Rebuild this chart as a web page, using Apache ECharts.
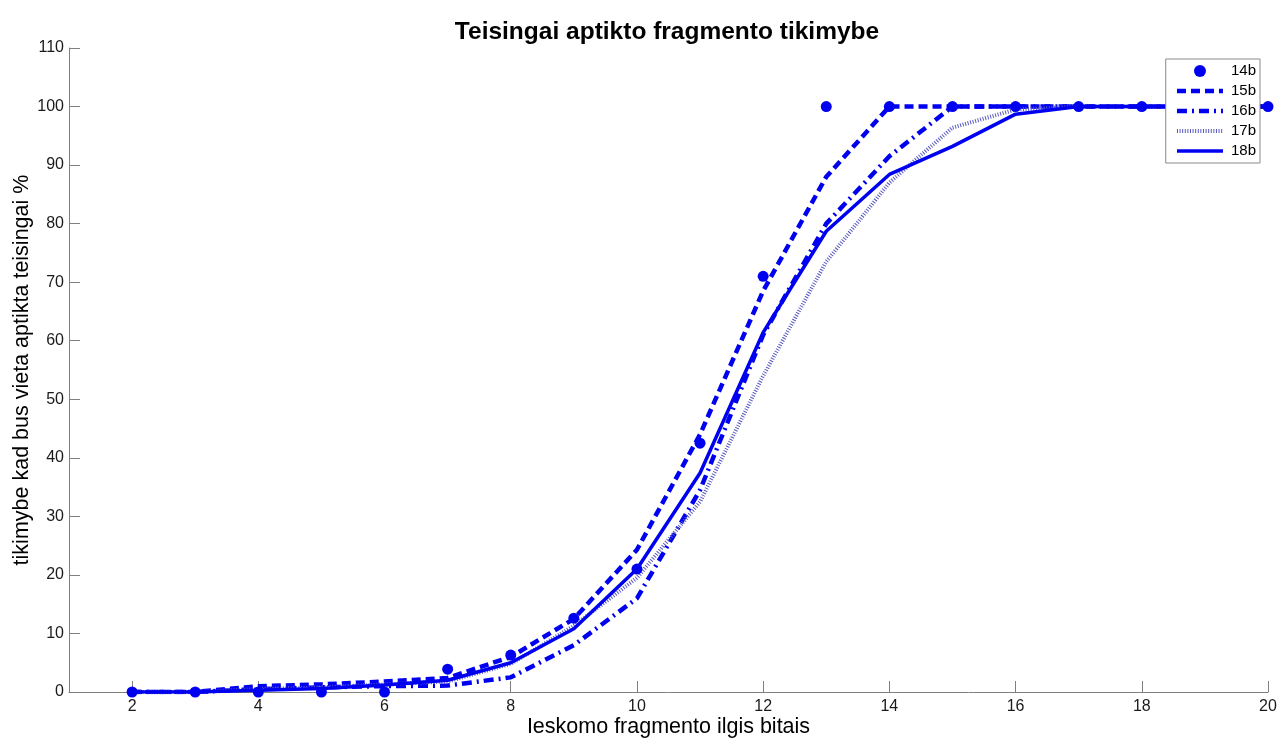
<!DOCTYPE html>
<html>
<head>
<meta charset="utf-8">
<script src="https://cdn.jsdelivr.net/npm/echarts@6/dist/echarts.min.js"></script>
<style>
html,body{margin:0;padding:0;background:#fff;}
#chart{width:1279px;height:738px;}
</style>
</head>
<body>
<div id="chart"></div>
<script>
var xValues = [2,3,4,5,6,7,8,9,10,11,12,13,14,15,16,17,18,19,20];
var s14b = [0,0,0,0,0,3.9,6.3,12.6,21,42.5,71,100,100,100,100,100,100,100,100];
var s15b = [0,0,1,1.3,1.8,2.4,6,12.5,24.3,44,68.5,88,100,100,100,100,100,100,100];
var s16b = [0,0,0.5,0.8,1,1.1,2.5,8,16,34.5,61,80,91.5,100,100,100,100,100,100];
var s17b = [0,0,0.5,0.8,1.3,1.8,4.8,11.3,19.5,32.5,54,73.5,87,96.4,99.5,100,100,100,100];
var s18b = [0,0,0.3,0.6,1.2,2,5,10.8,21,37.4,61.4,78.7,88.4,93.2,98.7,100,100,100,100];
var xTicks = [2,4,6,8,10,12,14,16,18,20];
var seriesNames = ['14b','15b','16b','17b','18b'];
var titleText = 'Teisingai aptikto fragmento tikimybe';
var xName = 'Ieskomo fragmento ilgis bitais';
var yName = 'tikimybe kad bus vieta aptikta teisingai %';

function pairs(arr){ return xValues.map(function(x,i){ return [x, arr[i]]; }); }

var blue = '#0000f0';
var dotted = '#5858c0';
var font = 'Liberation Sans, Arial, sans-serif';
var st15 = {color: blue, width: 4.5, type: [9, 5]};
var st16 = {color: blue, width: 4.5, type: [10, 5, 2, 5]};
var st17 = {color: dotted, width: 4, type: [1, 1.6]};
var st18 = {color: blue, width: 3.5, type: 'solid'};
var chart = echarts.init(document.getElementById('chart'));
chart.setOption({
  animation: false,
  backgroundColor: '#fff',
  title: {
    text: titleText, left: 662, top: 15, textAlign: 'center',
    textStyle: {fontFamily: font, fontSize: 24.5, fontWeight: 'bold', color: '#000'}
  },
  legend: {
    data: [
      {name: seriesNames[0]},
      {name: seriesNames[1], itemStyle: {opacity: 0}, lineStyle: st15},
      {name: seriesNames[2], itemStyle: {opacity: 0}, lineStyle: st16},
      {name: seriesNames[3], itemStyle: {opacity: 0}, lineStyle: st17},
      {name: seriesNames[4], itemStyle: {opacity: 0}, lineStyle: st18}
    ],
    orient: 'vertical', right: 19, top: 59,
    itemWidth: 46, itemHeight: 12, itemGap: 4, padding: [4, 4, 4, 9],
    borderColor: '#8a8a8a', borderWidth: 1, backgroundColor: '#fff',
    textStyle: {fontFamily: font, fontSize: 15, lineHeight: 16, color: '#000', padding: [0, 0, 0, 3]}
  },
  grid: {left: 69, right: 11, top: 48, bottom: 46, containLabel: false, outerBoundsMode: 'none'},
  xAxis: {
    type: 'value', min: 1, max: 20,
    name: xName, nameLocation: 'middle', nameGap: 24, nameMoveOverlap: false,
    nameTextStyle: {fontFamily: font, fontSize: 21.5, color: '#000'},
    axisLine: {show: true, lineStyle: {color: '#808080', width: 1}},
    axisTick: {show: true, inside: true, length: 11, customValues: xTicks, lineStyle: {color: '#808080'}},
    axisLabel: {customValues: xTicks, fontFamily: font, fontSize: 16, color: '#1a1a1a', margin: 7},
    splitLine: {show: false}
  },
  yAxis: {
    type: 'value', min: 0, max: 110, interval: 10,
    name: yName, nameLocation: 'middle', nameGap: 36, nameMoveOverlap: false,
    nameTextStyle: {fontFamily: font, fontSize: 21.5, color: '#000'},
    axisLine: {show: true, lineStyle: {color: '#808080', width: 1}},
    axisTick: {show: true, inside: true, length: 11, lineStyle: {color: '#808080'}},
    axisLabel: {fontFamily: font, fontSize: 16, color: '#1a1a1a', margin: 5},
    splitLine: {show: false}
  },
  series: [
    {name: '14b', type: 'scatter', data: pairs(s14b), symbol: 'circle', symbolSize: 11,
     itemStyle: {color: blue, opacity: 1}, z: 3},
    {name: '15b', type: 'line', data: pairs(s15b), symbol: 'none', color: blue, lineStyle: st15},
    {name: '16b', type: 'line', data: pairs(s16b), symbol: 'none', color: blue, lineStyle: st16},
    {name: '17b', type: 'line', data: pairs(s17b), symbol: 'none', color: dotted, lineStyle: st17},
    {name: '18b', type: 'line', data: pairs(s18b), symbol: 'none', color: blue, lineStyle: st18}
  ]
});
</script>
</body>
</html>
